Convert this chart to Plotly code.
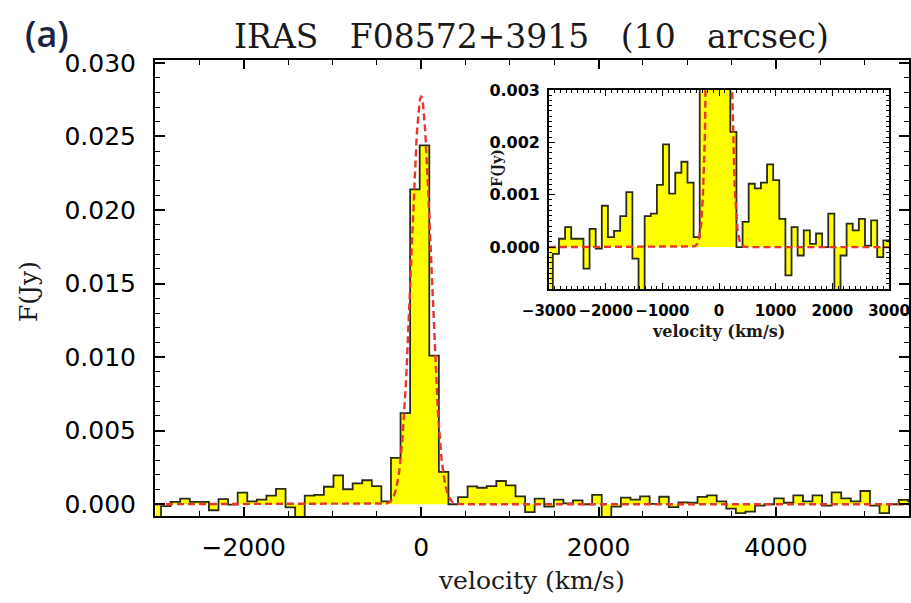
import numpy as np
import plotly.graph_objects as go

# ---------------- data ----------------
# velocity channel centres (km/s)
velocity = [
    -2986, -2878, -2770, -2662, -2554, -2446, -2338, -2230, -2122, -2014,
    -1906, -1798, -1690, -1582, -1474, -1366, -1258, -1150, -1042, -934,
    -826, -718, -610, -502, -394, -286, -178, -70, 38, 146,
    254, 362, 470, 578, 686, 794, 902, 1010, 1118, 1226,
    1334, 1442, 1550, 1658, 1766, 1874, 1982, 2090, 2198, 2306,
    2414, 2522, 2630, 2738, 2846, 2954, 3062, 3170, 3278, 3386,
    3494, 3602, 3710, 3818, 3926, 4034, 4142, 4250, 4358, 4466,
    4574, 4682, 4790, 4898, 5006, 5114, 5222, 5330, 5438, 5546,
]
# flux density per channel (mJy)
flux_mjy = [
    -1.00, -0.13, 0.16, 0.38, 0.16, 0.16, -0.41, 0.35, -0.03, 0.79,
    0.19, 0.31, 0.59, 1.05, -0.22, -0.95, 0.59, 0.64, 1.19, 1.96,
    1.02, 1.42, 1.63, 1.23, 0.19, 3.15, 6.2, 21.4, 24.4, 10.1,
    2.2, 0.0, 0.48, 1.21, 1.12, 1.23, 1.58, 1.28, 0.54, -0.54,
    0.38, -0.16, 0.32, 0.06, 0.26, 0.0, 0.64, -1.00, -0.16, 0.45,
    0.32, 0.54, 0.03, 0.51, -0.19, 0.13, 0.1, 0.5, 0.6, 0.2,
    -0.3, -0.6, -0.5, -0.1, 0.0, 0.4, 0.1, 0.6, 0.2, 0.6,
    -0.1, 0.8, 0.4, 0.2, 0.9, -0.1, -0.6, 0.0, 0.3, 0.2,
]
flux = [f / 1000.0 for f in flux_mjy]

# Gaussian fit shown as the red dashed model
gauss_amp = 0.0277      # Jy
gauss_center = 0.0      # km/s
gauss_sigma = 110.0     # km/s

main_xrange = [-3000, 5500]
main_yrange = [-0.0008, 0.0302]
inset_xrange = [-3000, 3000]
inset_yrange = [-0.0008, 0.003]

model_v = np.linspace(main_xrange[0], main_xrange[1], 2001)
model_f = gauss_amp * np.exp(-0.5 * ((model_v - gauss_center) / gauss_sigma) ** 2)

# ---------------- layout geometry (pixels) ----------------
W, H = 911, 603
L, R, T, B = 155, 2, 60, 87
PW, PH = W - L - R, H - T - B


def px(x):
    return (x - L) / PW


def py(y):
    return (H - B - y) / PH


FILL = "#FFFF00"
EDGE = "#2b2b1a"
RED = "#e8362c"

fig = go.Figure()

for xa, ya in (("x", "y"), ("x2", "y2")):
    fig.add_trace(go.Scatter(
        x=velocity, y=flux, mode="lines", line_shape="hvh",
        fill="tozeroy", fillcolor=FILL,
        line=dict(color=EDGE, width=1.8),
        xaxis=xa, yaxis=ya, showlegend=False, hoverinfo="skip"))
    fig.add_trace(go.Scatter(
        x=model_v, y=model_f, mode="lines",
        line=dict(color=RED, width=2.4, dash="7px,4px"),
        xaxis=xa, yaxis=ya, showlegend=False, hoverinfo="skip"))

axis_common = dict(showline=True, linecolor="black", mirror="allticks",
                   ticks="inside", showgrid=False, zeroline=False,
                   tickcolor="black", automargin=False)

main_font = dict(family="DejaVu Sans", size=25, color="black")
inset_font = dict(family="DejaVu Sans", size=16, color="black", weight="bold")
inset_xfont = dict(family="DejaVu Sans", size=15, color="black", weight="bold")

fig.update_layout(
    width=W, height=H,
    margin=dict(l=L, r=R, t=T, b=B, pad=0, autoexpand=False),
    paper_bgcolor="white", plot_bgcolor="white",
    xaxis=dict(axis_common, domain=[0, 1], range=main_xrange, anchor="y",
               tick0=0, dtick=2000, ticklen=9, tickwidth=1.5, linewidth=2,
               minor=dict(dtick=500, ticklen=5, ticks="inside", tickcolor="black", tickwidth=1.3),
               tickfont=main_font, ticklabelstandoff=8, tickangle=0),
    yaxis=dict(axis_common, domain=[0, 1], range=main_yrange, anchor="x",
               tick0=0, dtick=0.005, tickformat=".3f", ticklen=10, tickwidth=1.5, linewidth=2,
               minor=dict(dtick=0.001, ticklen=5, ticks="inside", tickcolor="black", tickwidth=1.3),
               tickfont=main_font, ticklabelstandoff=12),
    xaxis2=dict(axis_common, domain=[px(549), px(889)], range=inset_xrange, anchor="y2",
                tick0=0, dtick=1000, ticklen=6, tickwidth=1.3, linewidth=1.6,
                minor=dict(dtick=100, ticklen=3, ticks="inside", tickcolor="black", tickwidth=1),
                tickfont=inset_xfont, ticklabelstandoff=7, tickangle=0),
    yaxis2=dict(axis_common, domain=[py(289), py(90)], range=inset_yrange, anchor="x2",
                tick0=0, dtick=0.001, tickformat=".3f", ticklen=6, tickwidth=1.3, linewidth=1.6,
                minor=dict(dtick=0.0001, ticklen=3, ticks="inside", tickcolor="black", tickwidth=1),
                tickfont=inset_font, ticklabelstandoff=4),
)

annotations = [
    dict(text="IRAS   F08572+3915   (10   arcsec)", x=px(531), y=py(36),
         font=dict(family="DejaVu Serif", size=33, color="#1a1a1a")),
    dict(text="(a)", x=px(47), y=py(33),
         font=dict(family="Open Sans", size=36, color="#1c2340", weight=600)),
    dict(text="velocity (km/s)", x=px(531), y=py(580),
         font=dict(family="DejaVu Serif", size=25, color="#1a1a1a")),
    dict(text="F(Jy)", x=px(28), y=py(292), textangle=-90,
         font=dict(family="DejaVu Serif", size=25, color="#1a1a1a")),
    dict(text="velocity (km/s)", x=px(718), y=py(331),
         font=dict(family="DejaVu Serif", size=16, color="#1a1a1a", weight="bold")),
    dict(text="F(Jy)", x=px(497), y=py(168), textangle=-90,
         font=dict(family="DejaVu Serif", size=14, color="#1a1a1a", weight="bold")),
]
for a in annotations:
    a.update(xref="paper", yref="paper", showarrow=False,
             xanchor="center", yanchor="middle")
fig.update_layout(annotations=annotations)

fig.write_html("out.html")
